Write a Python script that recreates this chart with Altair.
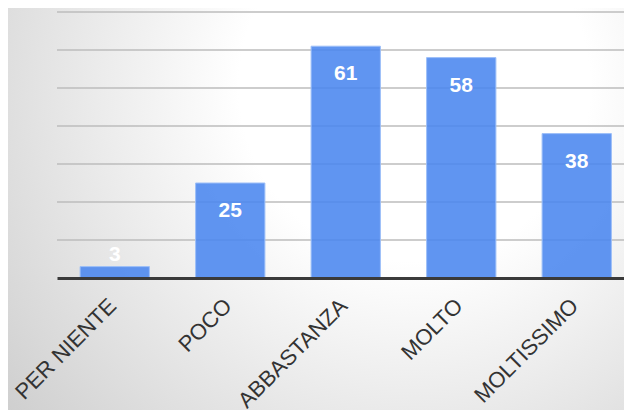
import altair as alt
import pandas as pd

categories = ["PER NIENTE", "POCO", "ABBASTANZA", "MOLTO", "MOLTISSIMO"]
values = [3, 25, 61, 58, 38]
grid_values = [10, 20, 30, 40, 50, 60, 70]

df = pd.DataFrame({"cat": categories, "val": values})
grid_df = pd.DataFrame({"g": grid_values})

W, H = 567, 266
PAD = {"left": 49, "top": 4, "right": 0, "bottom": 132}
YS = alt.Scale(domain=[0, 70])

grad = {
    "gradient": "radial",
    "x1": 0.66, "y1": 0.3, "r1": 0.0,
    "x2": 0.66, "y2": 0.3, "r2": 0.95,
    "stops": [
        {"offset": 0, "color": "#ffffff"},
        {"offset": 0.3, "color": "#ffffff"},
        {"offset": 1, "color": "#c6c6c6"},
    ],
}

bg = alt.Chart(alt.Data(values=[{}])).mark_rect(fill=grad).encode(
    x=alt.value(-PAD["left"]), x2=alt.value(W),
    y=alt.value(-PAD["top"]), y2=alt.value(H + PAD["bottom"]),
)

grid = alt.Chart(grid_df).mark_rule(color="#bdbdbd", strokeWidth=1.5).encode(
    y=alt.Y("g:Q", scale=YS, axis=None)
)

xenc = alt.X(
    "cat:N", sort=categories,
    scale=alt.Scale(paddingInner=0.4, paddingOuter=0.2, range=[0, 577.5]),
    axis=alt.Axis(
        title=None, labelAngle=-45, labelAlign="right", labelBaseline="middle",
        labelFontSize=22, labelFont="Liberation Sans", labelColor="#333333",
        domainColor="#3a3a3a", domainWidth=3, ticks=False, labelPadding=24,
        labelOffset=-2, grid=False, zindex=1,
    ),
)

base = alt.Chart(df).encode(x=xenc, y=alt.Y("val:Q", scale=YS, axis=None))

bars = base.mark_bar(
    color="#4a86ef", fillOpacity=0.88, stroke="#9dbff8", strokeWidth=1
)

txt_in = base.transform_filter("datum.val >= 10").mark_text(
    color="white", fontWeight="bold", fontSize=21, font="Liberation Sans",
    baseline="alphabetic", dy=34,
).encode(text="val:Q")

txt_out = base.transform_filter("datum.val < 10").mark_text(
    color="white", fontWeight="bold", fontSize=21, font="Liberation Sans",
    baseline="alphabetic", dy=-6,
).encode(text="val:Q")

chart = alt.layer(bg, grid, bars, txt_in, txt_out).properties(
    width=W, height=H,
    autosize=alt.AutoSizeParams(type="none"),
    padding=PAD,
).configure_view(stroke=None)

chart.save("out.html", embed_options={"renderer": "svg", "actions": False})
